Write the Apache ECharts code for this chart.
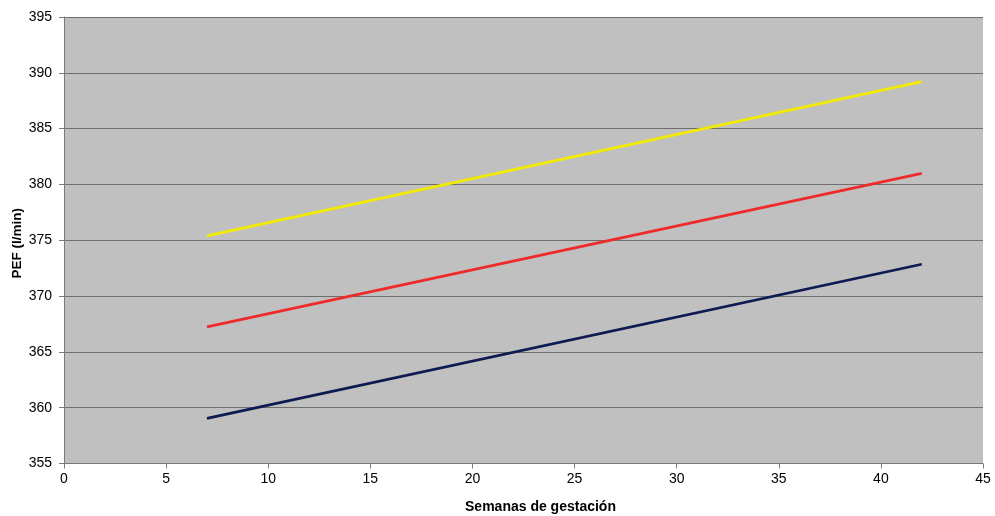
<!DOCTYPE html>
<html><head><meta charset="utf-8">
<script src="https://cdn.jsdelivr.net/npm/echarts@6/dist/echarts.min.js"></script>
<style>html,body{margin:0;padding:0;background:#fff}#c{width:995px;height:516px}</style>
</head><body><div id="c"></div>
<script>
const weeks = [7, 42];
const seriesYellow = [375.4, 389.2];
const seriesRed = [367.25, 381.0];
const seriesNavy = [359.05, 372.85];
const xTicks = [0,5,10,15,20,25,30,35,40,45];
const yTicks = [355,360,365,370,375,380,385,390,395];

function pts(v){ return weeks.map((w,i)=>[w, v[i]]); }
const font = 'Liberation Sans, Arial, sans-serif';
const chart = echarts.init(document.getElementById('c'), null, {renderer:'canvas'});
chart.setOption({
  animation:false,
  backgroundColor:'#fff',
  grid:{left:64, top:17, right:12, bottom:52.5, containLabel:false, outerBoundsMode:'none', show:true, backgroundColor:'#C0C0C0', borderWidth:0},
  xAxis:{type:'value', min:xTicks[0], max:xTicks[xTicks.length-1], interval:5,
    name:'Semanas de gestación', nameLocation:'middle', nameGap:37,
    nameTextStyle:{fontFamily:font, fontWeight:'bold', fontSize:14, color:'#000', padding:[0,0,0,34]},
    axisLine:{show:true, lineStyle:{color:'#7A7A7A', width:1}},
    axisTick:{show:true, length:5, lineStyle:{color:'#7A7A7A'}},
    axisLabel:{fontFamily:font, fontSize:14, color:'#000', margin:9},
    splitLine:{show:false}},
  yAxis:{type:'value', min:yTicks[0], max:yTicks[yTicks.length-1], interval:5,
    name:'PEF (l/min)', nameLocation:'middle', nameGap:40, nameMoveOverlap:false,
    nameTextStyle:{fontFamily:font, fontWeight:'bold', fontSize:13.5, color:'#000', padding:[0,6,0,0]},
    axisLine:{show:true, lineStyle:{color:'#7A7A7A', width:1}},
    axisTick:{show:true, length:5, lineStyle:{color:'#7A7A7A'}},
    axisLabel:{fontFamily:font, fontSize:14, color:'#000', margin:12},
    splitLine:{show:true, lineStyle:{color:'#6E6E6E', width:1.2}}},
  series:[
    {type:'line', data:pts(seriesYellow), symbol:'none', lineStyle:{color:'#F2EA00', width:2.8}},
    {type:'line', data:pts(seriesRed), symbol:'none', lineStyle:{color:'#EE2A2A', width:2.8}},
    {type:'line', data:pts(seriesNavy), symbol:'none', lineStyle:{color:'#0E1A52', width:2.8}}
  ]
});
</script></body></html>
